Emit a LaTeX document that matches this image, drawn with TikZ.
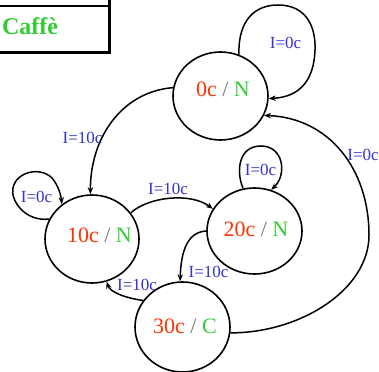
\documentclass[tikz,border=0pt]{standalone}
\usepackage{fontspec}
\setmainfont{Liberation Serif}
\usetikzlibrary{shapes.geometric,arrows.meta}
\definecolor{cred}{HTML}{FF3300}
\definecolor{cgreen}{HTML}{33CC33}
\definecolor{cblue}{HTML}{3333CC}
\definecolor{cgray}{HTML}{777777}
\tikzset{
 state/.style={ellipse,draw,line width=1.6pt,minimum width=95pt,minimum height=88pt,inner sep=0pt},
 stxt/.style={inner sep=0pt,anchor=base,font=\fontsize{22}{24}\selectfont},
 lbl/.style={inner sep=0pt,text=cblue,font=\fontsize{17}{20}\selectfont},
 edgeline/.style={line width=1.5pt,-{Stealth[length=7pt,width=5.5pt]}},
}
\newcommand{\stlabel}[2]{\textcolor{cred}{#1}\textcolor{cgray}{\ /\ }\textcolor{cgreen}{#2}}
\begin{document}
\begin{tikzpicture}[x=1pt,y=-1pt]
\useasboundingbox (0,0) rectangle (379,371);
% table fragment
\draw[line width=1.2pt] (-3,6) -- (109.5,6);
\draw[line width=2.8pt] (-3,52.5) -- (109.5,52.5) -- (109.5,-3);
\node[inner sep=0pt,anchor=base,text=cgreen,font=\bfseries\fontsize{24}{26}\selectfont] (caffe) at (30,35) {Caffè};
% states
\node[state] (n0) at (220.5,96) {};
\node[state,minimum width=94pt] (n10) at (92,239) {};
\node[state,minimum height=86pt] (n20) at (254.5,231) {};
\node[state,minimum height=90pt] (n30) at (182.5,327) {};
\node[stxt] (t0) at (223,97) {\stlabel{0c}{N}};
\node[stxt] (t10) at (99.5,242) {\stlabel{10c}{N}};
\node[stxt] (t20) at (256,236) {\stlabel{20c}{N}};
\node[stxt] (t30) at (185,333) {\stlabel{30c}{C}};
% self loops
\draw[edgeline] (n0.66) .. controls (238,20) and (255,5) .. (278,5)
  .. controls (305,5) and (316,25) .. (315,50)
  .. controls (314,80) and (300,97) .. (n0.-3);
\draw[edgeline] (n10.155) .. controls (25,222) and (10,200) .. (13,188)
  .. controls (16,172) and (40,166) .. (52,178)
  .. controls (58,185) and (61,195) .. (n10.131);
\draw[edgeline] (n20.105) .. controls (236,172) and (238,146) .. (261,146)
  .. controls (284,146) and (287,175) .. (n20.68);
% transitions
\draw[edgeline] (n0.170) .. controls (120,92) and (90,140) .. (n10.92);
\draw[edgeline] (n10.34) .. controls (148,197) and (190,192) .. (n20.152);
\draw[edgeline] (n20.180) .. controls (188,232) and (181,250) .. (n30.93);
\draw[edgeline] (n30.146) .. controls (125,298) and (110,292) .. (n10.-71);
\draw[edgeline] (n30.-7) .. controls (300,333) and (369,290) .. (369,235)
  .. controls (369,170) and (330,118) .. (n0.-24);
% labels
\node[lbl] (l1) at (82.5,137.5) {I=10c};
\node[lbl] (l2) at (285.5,43) {I=0c};
\node[lbl] (l3) at (36.5,196.7) {I=0c};
\node[lbl] (l4) at (168,189) {I=10c};
\node[lbl] (l5) at (260.5,170) {I=0c};
\node[lbl] (l6) at (208.5,271.5) {I=10c};
\node[lbl] (l7) at (137,284.5) {I=10c};
\node[lbl] (l8) at (363,154.5) {I=0c};
\end{tikzpicture}
\end{document}
